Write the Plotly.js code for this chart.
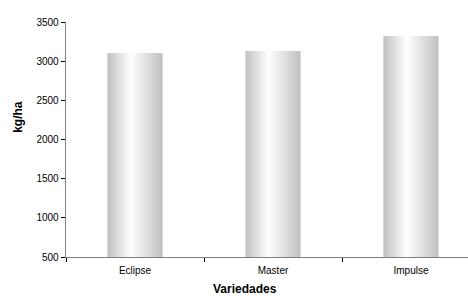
<!DOCTYPE html>
<html><head><meta charset="utf-8">
<script src="https://cdn.plot.ly/plotly-3.0.1.min.js"></script>
<style>html,body{margin:0;padding:0;background:#fff}#chart{width:468px;height:296px}</style>
</head><body>
<div id="chart"></div>
<script>
const categories = ["Eclipse", "Master", "Impulse"];
const yieldKgHa = [3105, 3130, 3320];
const yTicks = [500, 1000, 1500, 2000, 2500, 3000, 3500];

const trace = {
  type: "bar",
  x: categories,
  y: yieldKgHa,
  base: 0,
  width: 0.4,
  marker: {color: "#d0d0d0", line: {width: 0}},
  hoverinfo: "none"
};

const font = {family: "Liberation Sans, Arial, sans-serif", color: "#000"};

const layout = {
  width: 468, height: 296,
  margin: {l: 66, r: 0, t: 22, b: 38.5, pad: 0},
  paper_bgcolor: "#fff", plot_bgcolor: "#fff",
  showlegend: false,
  font: Object.assign({size: 10}, font),
  xaxis: {
    type: "category",
    range: [-0.5, 2.413],
    showgrid: false, zeroline: false,
    showline: true, linecolor: "#7f7f7f", linewidth: 1.3,
    ticks: "outside", tickson: "boundaries", ticklen: 4, tickcolor: "#000", tickwidth: 1,
    ticklabelstandoff: 4,
    tickfont: Object.assign({size: 10}, font),
    fixedrange: true
  },
  yaxis: {
    range: [500, 3500],
    tickvals: yTicks,
    ticktext: yTicks.map(String),
    showgrid: false, zeroline: false,
    showline: true, linecolor: "#7f7f7f", linewidth: 1.3,
    ticks: "outside", ticklen: 4, tickcolor: "#000", tickwidth: 1,
    tickfont: Object.assign({size: 10}, font),
    fixedrange: true
  },
  annotations: [
    {text: "<b>kg/ha</b>", xref: "paper", yref: "paper", x: -0.119, y: 0.597,
     xanchor: "center", yanchor: "middle", textangle: -90, showarrow: false,
     font: Object.assign({size: 12}, font)},
    {text: "<b>Variedades</b>", xref: "paper", yref: "paper", x: (245-66)/402, y: -0.135,
     xanchor: "center", yanchor: "middle", showarrow: false,
     font: Object.assign({size: 12}, font)}
  ]
};

Plotly.newPlot("chart", [trace], layout, {staticPlot: true, displayModeBar: false}).then(function(gd){
  const svg = gd.querySelector("svg.main-svg");
  const ns = "http://www.w3.org/2000/svg";
  let defs = svg.querySelector("defs");
  if (!defs) { defs = document.createElementNS(ns, "defs"); svg.insertBefore(defs, svg.firstChild); }
  const g = document.createElementNS(ns, "linearGradient");
  g.setAttribute("id", "barGrad");
  g.setAttribute("x1", "0"); g.setAttribute("y1", "0");
  g.setAttribute("x2", "1"); g.setAttribute("y2", "0");
  [["0", "#c0c0c0"], ["0.42", "#ffffff"], ["1", "#c0c0c0"]].forEach(function(s){
    const st = document.createElementNS(ns, "stop");
    st.setAttribute("offset", s[0]); st.setAttribute("stop-color", s[1]);
    g.appendChild(st);
  });
  defs.appendChild(g);
  gd.querySelectorAll(".bars .point path").forEach(function(p){
    p.style.fill = "url(#barGrad)";
    p.style.fillOpacity = 1;
  });
});
</script>
</body></html>
